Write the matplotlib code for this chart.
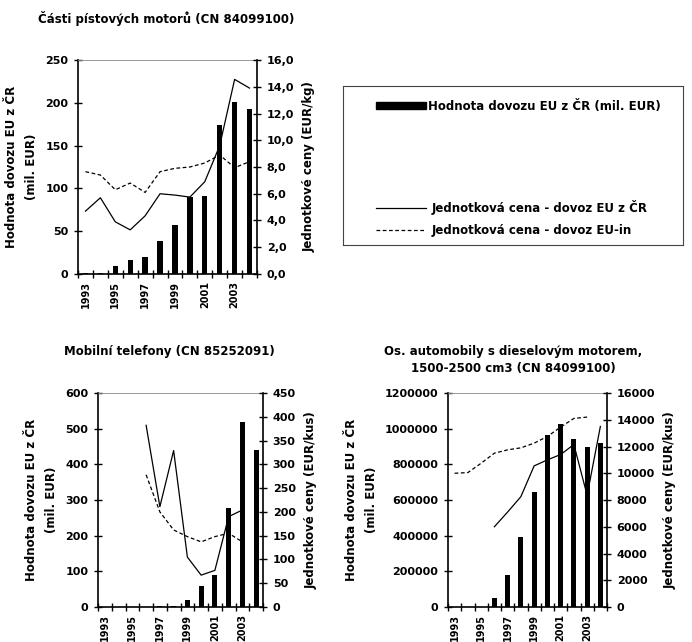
import numpy as np
import matplotlib
matplotlib.use("Agg")
import matplotlib.pyplot as plt
from matplotlib.patches import Patch
from matplotlib.lines import Line2D
from matplotlib.ticker import FuncFormatter

plt.rcParams['font.family'] = ['DejaVu Sans']
plt.rcParams['font.weight'] = 'bold'

years = list(range(1993, 2005))
year_labels = ['1993', '1995', '1997', '1999', '2001', '2003']
nan = np.nan

# Panel 1: Části pístových motorů
p1_title = 'Části pístových motorů (CN 84099100)'
p1_bars = [1, 1, 9, 16, 20, 39, 57, 90, 91, 174, 201, 193]
p1_cz = [4.7, 5.7, 3.9, 3.3, 4.35, 6.0, 5.9, 5.75, 6.9, 9.6, 14.55, 13.9]
p1_eu = [7.65, 7.4, 6.3, 6.8, 6.1, 7.65, 7.9, 8.0, 8.3, 8.9, 7.95, 8.4]

# Panel 2: Mobilní telefony
p2_title = 'Mobilní telefony (CN 85252091)'
p2_bars = [0, 0, 0, 0, 4, 4, 20, 59, 89, 278, 518, 440]
p2_cz = [nan, nan, nan, 382, 211, 329, 105, 67, 77, 190, 204, nan]
p2_eu = [nan, nan, nan, 278, 200, 162, 148, 137, 148, 155, 137, nan]

# Panel 3: Os. automobily s dieselovým motorem
p3_title = 'Os. automobily s dieselovým motorem,\n1500-2500 cm3 (CN 84099100)'
p3_bars = [0, 0, 0, 50000, 180000, 390000, 645000, 965000, 1025000, 943000, 900000, 920000]
p3_cz = [nan, nan, nan, 6000, 7100, 8250, 10550, 11000, 11400, 12150, 8350, 13500]
p3_eu = [10000, 10050, 10750, 11500, 11750, 11900, 12250, 12750, 13450, 14100, 14200, nan]

legend_labels = ['Hodnota dovozu EU z ČR (mil. EUR)',
                 'Jednotková cena - dovoz EU z ČR',
                 'Jednotková cena - dovoz EU-in']

left_label = 'Hodnota dovozu EU z ČR\n(mil. EUR)'

W, H = 692, 642
fig = plt.figure(figsize=(W / 100, H / 100), dpi=100)


def px_axes(l, r, t, b):
    return fig.add_axes([l / W, 1 - b / H, (r - l) / W, (b - t) / H])


FS = 8          # tick labels
FT = 8.5        # titles, axis labels, legend

int_fmt = lambda v, p: f'{int(round(v))}'
dec_fmt = lambda v, p: f'{v:.1f}'.replace('.', ',')


def panel(box, bars, cz, eu, lmax, lstep, rmax, rstep, rfmt, rlabel, lpad, rpad):
    ax = px_axes(*box)
    x = np.arange(len(years))
    ax.bar(x, bars, width=0.36, color='black', zorder=2)
    ax.set_xlim(-0.5, len(years) - 0.5)
    ax.set_ylim(0, lmax)
    ax.set_yticks(np.arange(0, lmax + lstep / 2, lstep))
    ax.yaxis.set_major_formatter(FuncFormatter(int_fmt))
    ax.set_xticks(np.arange(-0.5, len(years)))
    ax.set_xticklabels([])
    ax.set_xticks(np.arange(0, len(years), 2), year_labels, minor=True)
    ax.tick_params(axis='x', which='major', direction='inout', length=6, width=1)
    ax.tick_params(axis='x', which='minor', length=0, labelrotation=90, labelsize=7, pad=5)
    ax.tick_params(axis='y', direction='inout', length=6, width=1, labelsize=FS, pad=4)
    for lab in ax.get_xticklabels(minor=True) + ax.get_yticklabels():
        lab.set_fontweight('bold')
    ax.spines['top'].set_color('#888888')
    ax.spines['top'].set_linewidth(0.6)
    ax.spines['left'].set_linewidth(1.2)
    ax.spines['bottom'].set_linewidth(1.2)
    ax.spines['right'].set_visible(False)
    ax.set_ylabel(left_label, fontsize=FT, fontweight='bold', labelpad=lpad, linespacing=1.7)

    ax2 = ax.twinx()
    ax2.plot(x, cz, color='black', lw=0.9)
    ax2.plot(x, eu, color='black', lw=0.9, dashes=(3, 2))
    ax2.set_ylim(0, rmax)
    ax2.set_yticks(np.arange(0, rmax + rstep / 2, rstep))
    ax2.yaxis.set_major_formatter(FuncFormatter(rfmt))
    ax2.tick_params(axis='y', direction='inout', length=6, width=1, labelsize=FS, pad=4)
    for lab in ax2.get_yticklabels():
        lab.set_fontweight('bold')
    for s in ['top', 'left', 'bottom']:
        ax2.spines[s].set_visible(False)
    ax2.spines['right'].set_linewidth(1.2)
    ax2.set_ylabel(rlabel, fontsize=FT, fontweight='bold', labelpad=rpad)
    return ax, ax2


panel((78, 257, 60, 274), p1_bars, p1_cz, p1_eu, 250, 50, 16, 2, dec_fmt,
      'Jednotkové ceny (EUR/kg)', 5, 6)
panel((98, 263, 393, 607), p2_bars, p2_cz, p2_eu, 600, 100, 450, 50, int_fmt,
      'Jednotkové ceny (EUR/kus)', 5, 6)
panel((448, 607, 393, 607), p3_bars, p3_cz, p3_eu, 1200000, 200000, 16000, 2000, int_fmt,
      'Jednotkové ceny (EUR/kus)', 5, 6)

fig.text(38 / W, 1 - 18 / H, p1_title, fontsize=FT, fontweight='bold', va='center', ha='left')
fig.text(64 / W, 1 - 352 / H, p2_title, fontsize=FT, fontweight='bold', va='center', ha='left')
fig.text(513 / W, 1 - 360 / H, p3_title, fontsize=FT, fontweight='bold', va='center',
         ha='center', linespacing=1.35)

# Legend box
lax = px_axes(343, 683, 86, 245)
lax.set_xticks([])
lax.set_yticks([])
lax.patch.set_alpha(0)
for s in lax.spines.values():
    s.set_linewidth(0.8)
    s.set_color('#444444')

h_bar = [Patch(facecolor='black', edgecolor='black')]
h_lines = [Line2D([], [], color='black', lw=0.9),
           Line2D([], [], color='black', lw=0.9, dashes=(3, 2))]
leg1 = lax.legend(h_bar, legend_labels[:1], loc='upper left', bbox_to_anchor=(0.065, 0.98),
                  frameon=False, fontsize=FT, handlelength=4.3, handleheight=0.55,
                  handletextpad=0.1, borderpad=0.4)
lax.add_artist(leg1)
leg2 = lax.legend(h_lines, legend_labels[1:], loc='upper left', bbox_to_anchor=(0.065, 0.35),
                  frameon=False, fontsize=FT, handlelength=4.3, handletextpad=0.4,
                  labelspacing=0.75, borderpad=0.4)
for t in leg1.get_texts() + leg2.get_texts():
    t.set_fontweight('bold')

fig.savefig('out.png', dpi=100)
